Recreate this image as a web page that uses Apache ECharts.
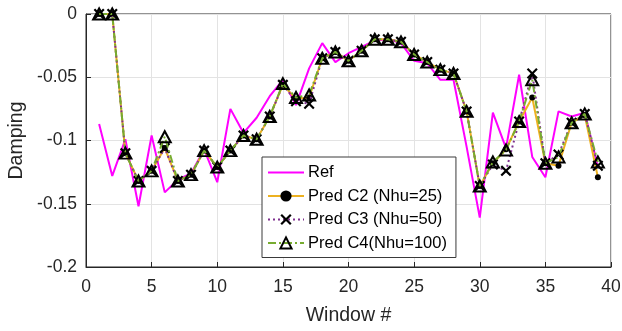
<!DOCTYPE html>
<html>
<head>
<meta charset="utf-8">
<script src="https://cdn.jsdelivr.net/npm/echarts@6/dist/echarts.min.js"></script>
<style>
  html, body { margin: 0; padding: 0; background: #fff; }
  #chart { width: 622px; height: 331px; }
</style>
</head>
<body>
<div id="chart"></div>
<script>
// Window numbers 1..39
const windows = [1,2,3,4,5,6,7,8,9,10,11,12,13,14,15,16,17,18,19,20,21,22,23,24,25,26,27,28,29,30,31,32,33,34,35,36,37,38,39];

// Reference damping per window
const refDamping = [-0.087,-0.128,-0.099,-0.152,-0.096,-0.141,-0.131,-0.126,-0.107,-0.133,
  -0.075,-0.094,-0.082,-0.065,-0.052,-0.072,-0.043,-0.023,-0.038,-0.031,
  -0.026,-0.021,-0.020,-0.023,-0.037,-0.039,-0.052,-0.052,-0.105,-0.161,
  -0.078,-0.106,-0.048,-0.113,-0.129,-0.077,-0.081,-0.078,-0.121];

// Predicted damping, case C2 (Nhu=25)
const predC2 = [0,0,-0.110,-0.132,-0.124,-0.106,-0.132,-0.127,-0.108,-0.121,
  -0.108,-0.096,-0.099,-0.081,-0.056,-0.067,-0.066,-0.035,-0.030,-0.037,
  -0.029,-0.020,-0.020,-0.022,-0.032,-0.038,-0.044,-0.047,-0.077,-0.136,
  -0.118,-0.107,-0.085,-0.066,-0.118,-0.120,-0.086,-0.080,-0.129];

// Predicted damping, case C3 (Nhu=50)
const predC3 = [0,0,-0.110,-0.132,-0.124,-0.106,-0.132,-0.127,-0.108,-0.121,
  -0.108,-0.096,-0.099,-0.081,-0.056,-0.069,-0.071,-0.035,-0.030,-0.037,
  -0.029,-0.020,-0.020,-0.022,-0.032,-0.038,-0.044,-0.047,-0.077,-0.136,
  -0.119,-0.124,-0.085,-0.047,-0.118,-0.111,-0.086,-0.079,-0.120];

// Predicted damping, case C4 (Nhu=100)
const predC4 = [0,0,-0.110,-0.132,-0.124,-0.097,-0.132,-0.127,-0.108,-0.121,
  -0.108,-0.096,-0.099,-0.081,-0.055,-0.066,-0.064,-0.035,-0.030,-0.037,
  -0.029,-0.020,-0.020,-0.022,-0.032,-0.038,-0.044,-0.047,-0.077,-0.136,
  -0.117,-0.1075,-0.085,-0.052,-0.118,-0.113,-0.086,-0.079,-0.117];

const seriesNames = ['Ref', 'Pred C2 (Nhu=25)', 'Pred C3 (Nhu=50)', 'Pred C4(Nhu=100)'];

const FONT = "'Liberation Sans', Arial, Helvetica, sans-serif";
const pair = arr => windows.map((w, i) => [w, arr[i]]);
const crossSymbol = 'path://M0,1.4L1.4,0L5,3.6L8.6,0L10,1.4L6.4,5L10,8.6L8.6,10L5,6.4L1.4,10L0,8.6L3.6,5Z';

const chart = echarts.init(document.getElementById('chart'), null, { renderer: 'canvas' });

chart.setOption({
  animation: false,
  backgroundColor: '#ffffff',
  grid: {
    left: 86, right: 11, top: 14, bottom: 64,
    outerBoundsMode: 'none', containLabel: false,
    show: true, borderColor: '#262626', borderWidth: 1, backgroundColor: 'transparent'
  },
  xAxis: {
    type: 'value', min: 0, max: 40, interval: 5,
    name: 'Window #', nameLocation: 'middle', nameGap: 39,
    nameTextStyle: { fontFamily: FONT, fontSize: 19.5, color: '#262626' },
    axisLine: { show: true, onZero: false, lineStyle: { color: '#262626', width: 1 } },
    axisTick: { show: true, inside: true, length: 5, lineStyle: { color: '#262626' } },
    axisLabel: { fontFamily: FONT, fontSize: 17.5, color: '#262626', margin: 11 },
    splitLine: { show: true, lineStyle: { color: '#e3e3e3', width: 1 } }
  },
  yAxis: {
    type: 'value', min: -0.2, max: 0, interval: 0.05,
    name: 'Damping', nameLocation: 'middle', nameGap: 58, nameRotate: 90,
    nameTextStyle: { fontFamily: FONT, fontSize: 19.5, color: '#262626' },
    axisLine: { show: true, onZero: false, lineStyle: { color: '#262626', width: 1 } },
    axisTick: { show: true, inside: true, length: 5, lineStyle: { color: '#262626' } },
    axisLabel: {
      fontFamily: FONT, fontSize: 17.5, color: '#262626', margin: 9,
      formatter: v => String(parseFloat(v.toFixed(2)))
    },
    splitLine: { show: true, lineStyle: { color: '#e3e3e3', width: 1 } }
  },
  legend: {
    orient: 'vertical', left: 262, top: 157,
    itemWidth: 36, itemHeight: 14, itemGap: 6.5,
    padding: [7, 9, 6, 5],
    backgroundColor: '#ffffff', borderColor: '#3a3a3a', borderWidth: 1,
    textStyle: { fontFamily: FONT, fontSize: 16.5, color: '#000000', padding: [0, 0, 0, -1] },
    data: [
      { name: seriesNames[0], itemStyle: { opacity: 0 } },
      seriesNames[1], seriesNames[2], seriesNames[3]
    ]
  },
  series: [
    {
      name: seriesNames[0], type: 'line', data: pair(refDamping),
      showSymbol: false, symbol: 'none',
      lineStyle: { color: '#ff00ff', width: 2 },
      itemStyle: { color: '#ff00ff' },
      z: 2
    },
    {
      name: seriesNames[1], type: 'line', data: pair(predC2),
      symbol: 'circle', symbolSize: 6, showAllSymbol: true,
      lineStyle: { color: '#edb120', width: 2 },
      itemStyle: { color: '#000000', borderWidth: 0 },
      z: 3
    },
    {
      name: seriesNames[2], type: 'line', data: pair(predC3),
      symbol: crossSymbol, symbolSize: 11, showAllSymbol: true,
      lineStyle: { color: '#7e2f8e', width: 2, type: [2, 3] },
      itemStyle: { color: '#000000', borderWidth: 0 },
      z: 4
    },
    {
      name: seriesNames[3], type: 'line', data: pair(predC4),
      symbol: 'triangle', symbolSize: [12, 11], showAllSymbol: true,
      lineStyle: { color: '#77ac30', width: 2, type: [8, 3, 2, 3] },
      itemStyle: { color: 'rgba(255,255,255,0)', borderColor: '#000000', borderWidth: 2 },
      z: 5
    }
  ]
});
</script>
</body>
</html>
